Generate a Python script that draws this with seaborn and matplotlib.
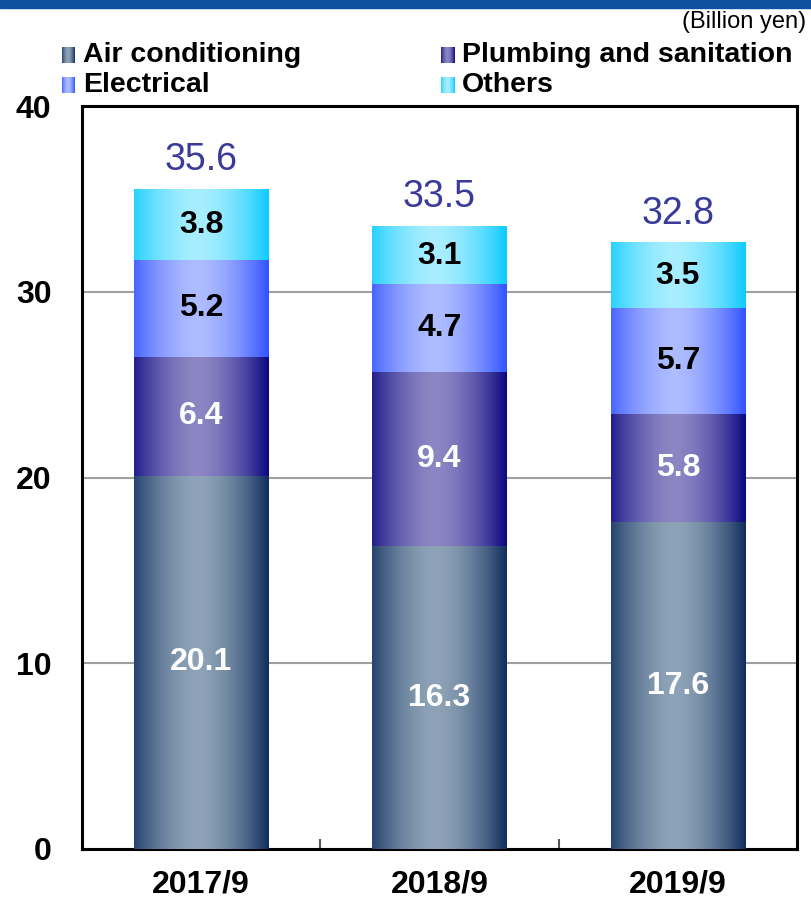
import numpy as np
import pandas as pd
import matplotlib
matplotlib.use("Agg")
import matplotlib.pyplot as plt
import seaborn as sns
from matplotlib.colors import to_rgb

# ---- data (billion yen) ----
periods = ["2017/9", "2018/9", "2019/9"]
air_conditioning = [20.1, 16.3, 17.6]
plumbing = [6.4, 9.4, 5.8]
electrical = [5.2, 4.7, 5.7]
others = [3.8, 3.1, 3.5]
totals = [35.6, 33.5, 32.8]

series_names = ["Air conditioning", "Plumbing and sanitation", "Electrical", "Others"]
series_values = [air_conditioning, plumbing, electrical, others]
# (edge colour, centre colour) of each horizontal gradient
series_colors = [("#0f2e5e", "#8ea3b7"),
                 ("#0b0780", "#8c86c4"),
                 ("#3152ff", "#aebcff"),
                 ("#0ccbff", "#a8eeff")]
label_colors = ["white", "white", "black", "black"]

sns.set_theme(style="white")
plt.rcParams["font.family"] = ["Liberation Sans", "DejaVu Sans"]
plt.rcParams["text.color"] = "black"
plt.rcParams["xtick.color"] = "black"
plt.rcParams["ytick.color"] = "black"

fig = plt.figure(figsize=(8.11, 9.01), dpi=100)
ax = fig.add_axes([82 / 811, 1 - 849 / 901, 715 / 811, 743 / 901])

# top blue band
fig.patches.append(plt.Rectangle((0, 1 - 8 / 901), 1, 8 / 901, transform=fig.transFigure,
                                 color="#0e4f9f", zorder=0))


def gradient_image(edge, centre, n=256):
    u = np.linspace(0, 1, n)
    t = np.abs(u - 0.47) / 0.53
    t = np.clip(t, 0, 1) ** 1.7
    e = np.array(to_rgb(edge))
    c = np.array(to_rgb(centre))
    row = c[None, :] + (e - c)[None, :] * t[:, None]
    return row[None, :, :]


df = pd.DataFrame({"period": periods})
cum = np.zeros(len(periods))
bottoms = []
tops = []
for vals in series_values:
    bottoms.append(cum.copy())
    cum = cum + np.array(vals)
    tops.append(cum.copy())

# stacked bars: draw cumulative heights with seaborn, largest first
BAR_W = 0.5625
for k in range(len(series_names) - 1, -1, -1):
    df["height"] = tops[k]
    n_before = len(ax.patches)
    sns.barplot(data=df, x="period", y="height", width=BAR_W, color=series_colors[k][0],
                ax=ax, errorbar=None, linewidth=0, zorder=2)
    new = ax.patches[n_before:]
    img = gradient_image(*series_colors[k])
    for j, p in enumerate(new):
        p.set_alpha(0)
        x0 = p.get_x()
        x1 = x0 + p.get_width()
        y0, y1 = bottoms[k][j], tops[k][j]
        ax.imshow(img, extent=[x0, x1, y0, y1], aspect="auto", zorder=3 + k,
                  interpolation="bilinear")
        ax.text((x0 + x1) / 2, (y0 + y1) / 2, f"{series_values[k][j]:.1f}",
                ha="center", va="center", fontsize=23, fontweight="bold",
                color=label_colors[k], zorder=10)

# totals above bars
for j, tot in enumerate(totals):
    ax.text(j, tops[-1][j] + 1.6, f"{tot:.1f}", ha="center", va="center",
            fontsize=27, color="#3a3a9a", zorder=10)

ax.set_xlim(-0.5, 2.5)
ax.set_ylim(0, 40)
ax.set_yticks([0, 10, 20, 30, 40])
ax.set_yticklabels(["0", "10", "20", "30", "40"], fontsize=23, fontweight="bold")
ax.set_xticks(range(len(periods)))
ax.set_xticklabels(periods, fontsize=23, fontweight="bold")
ax.set_xlabel("")
ax.set_ylabel("")
ax.tick_params(axis="y", length=0, pad=22)
ax.tick_params(axis="x", which="major", bottom=True, length=0, pad=15)
ax.set_xticks([0.5, 1.5], minor=True)
ax.tick_params(axis="x", which="minor", bottom=True, direction="in", length=7,
               width=1.5, color="#555555")
ax.yaxis.grid(True, color="#a0a0a0", linewidth=1.5, zorder=0)
ax.set_axisbelow(True)
for s in ax.spines.values():
    s.set_visible(True)
    s.set_color("black")
    s.set_linewidth(2.2)

# unit label
fig.text(806 / 811, 1 - 22 / 901, "(Billion yen)", ha="right", va="center", fontsize=17)

# legend with gradient swatches
legend_pos = [(62, 55), (441, 55), (62, 85), (441, 85)]
for k, name in enumerate(series_names):
    px, py = legend_pos[k]
    sw = fig.add_axes([px / 811, 1 - (py + 8) / 901, 13 / 811, 16 / 901])
    sw.imshow(gradient_image(*series_colors[k]), aspect="auto", interpolation="bilinear")
    sw.set_axis_off()
    fig.text((px + 21) / 811, 1 - py / 901, name, ha="left", va="center",
             fontsize=20.5, fontweight="bold")

fig.savefig("out.png", dpi=100)
